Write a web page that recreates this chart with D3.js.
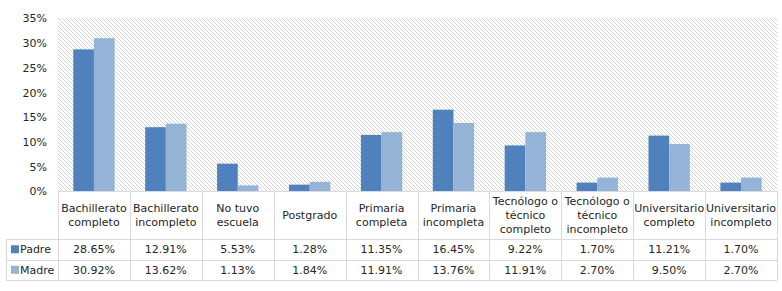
<!DOCTYPE html>
<html><head><meta charset="utf-8">
<script src="https://cdn.jsdelivr.net/npm/d3@7"></script>
<style>body{margin:0;background:#fff}svg{display:block}text{font-family:"DejaVu Sans",Verdana,sans-serif;font-size:11px;fill:#262626}</style>
</head><body><svg id="c" width="782" height="291"></svg>
<script>
const categories = [["Bachillerato","completo"],["Bachillerato","incompleto"],["No tuvo","escuela"],["Postgrado"],["Primaria","completa"],["Primaria","incompleta"],["Tecnólogo o","técnico","completo"],["Tecnólogo o","técnico","incompleto"],["Universitario","completo"],["Universitario","incompleto"]];
const padre = [28.65,12.91,5.53,1.28,11.35,16.45,9.22,1.70,11.21,1.70];
const madre = [30.92,13.62,1.13,1.84,11.91,13.76,11.91,2.70,9.50,2.70];
const seriesNames = ["Padre","Madre"];
const yTicks = [0,5,10,15,20,25,30,35];

const colors = ["#4f81bd","#95b3d7"];
const svg = d3.select("#c");
const L=58, R=777, T=18, B=191;
const row1=239, row2=259.5, row3=280, tableLeft=6;
const grid="#d9d9d9";

const defs = svg.append("defs");
const pat = defs.append("pattern").attr("id","hatch").attr("patternUnits","userSpaceOnUse")
  .attr("width",4).attr("height",4);
pat.append("rect").attr("width",4).attr("height",4).attr("fill","#fff");
pat.append("path").attr("d","M-1,-1 L5,5 M-1,3 L1,5 M3,-1 L5,1").attr("stroke","#d4d4d4").attr("stroke-width",1);

const idx = d3.range(categories.length);
const x = d3.scaleBand().domain(idx).range([L,R]).paddingInner(0).paddingOuter(0);
const xs = d3.scaleBand().domain([0,1]).range([0,x.bandwidth()]).paddingInner(0).paddingOuter(0.74);
const y = d3.scaleLinear().domain([0,35]).range([B,T]);

svg.append("rect").attr("x",L).attr("y",T).attr("width",R-L).attr("height",B-T).attr("fill","url(#hatch)");

const yAxis = svg.append("g").attr("transform",`translate(47,0)`)
  .call(d3.axisLeft(y).tickValues(yTicks).tickSize(0).tickFormat(d=>d+"%"));
yAxis.select(".domain").remove();
yAxis.selectAll("text").attr("x",0).attr("dy","0.35em").style("font-size","11px").attr("fill","#262626");

const data=[padre,madre];
data.forEach((s,si)=>{
  svg.append("g").selectAll("rect").data(s).join("rect")
    .attr("x",(d,i)=>x(i)+xs(si)).attr("width",xs.bandwidth())
    .attr("y",d=>y(d)).attr("height",d=>B-y(d)).attr("fill",colors[si]);
});

// table
const tg = svg.append("g").attr("stroke",grid).attr("stroke-width",1).attr("shape-rendering","crispEdges");
tg.append("line").attr("x1",L).attr("x2",R).attr("y1",B+0.5).attr("y2",B+0.5);
[row1,row2,row3].forEach(yy=>tg.append("line").attr("x1",tableLeft).attr("x2",R).attr("y1",Math.round(yy)+0.5).attr("y2",Math.round(yy)+0.5));
idx.concat([categories.length]).forEach(i=>{
  const xx = i<categories.length? x(i): R;
  tg.append("line").attr("x1",Math.round(xx)+0.5).attr("x2",Math.round(xx)+0.5).attr("y1",B).attr("y2",row3);
});
tg.append("line").attr("x1",tableLeft+0.5).attr("x2",tableLeft+0.5).attr("y1",row1).attr("y2",row3);

// header
categories.forEach((c,i)=>{
  const cx = x(i)+x.bandwidth()/2;
  const lh = c.length===3?14:13.5;
  const cy = (B+row1)/2;
  const t = svg.append("text").attr("text-anchor","middle");
  c.forEach((ln,k)=>{
    t.append("tspan").attr("x",cx).attr("y",cy+(k-(c.length-1)/2)*lh).attr("dy","0.35em").text(ln);
  });
});
// rows
const rowsY=[(row1+row2)/2,(row2+row3)/2];
data.forEach((s,si)=>{
  svg.append("rect").attr("x",11).attr("y",rowsY[si]-4).attr("width",8).attr("height",8).attr("fill",colors[si]);
  svg.append("text").attr("x",20).attr("y",rowsY[si]).attr("dy","0.35em").text(seriesNames[si]);
  svg.append("g").selectAll("text").data(s).join("text")
    .attr("x",(d,i)=>x(i)+x.bandwidth()/2).attr("y",rowsY[si]).attr("dy","0.35em")
    .attr("text-anchor","middle").text(d=>d.toFixed(2)+"%");
});
</script></body></html>
